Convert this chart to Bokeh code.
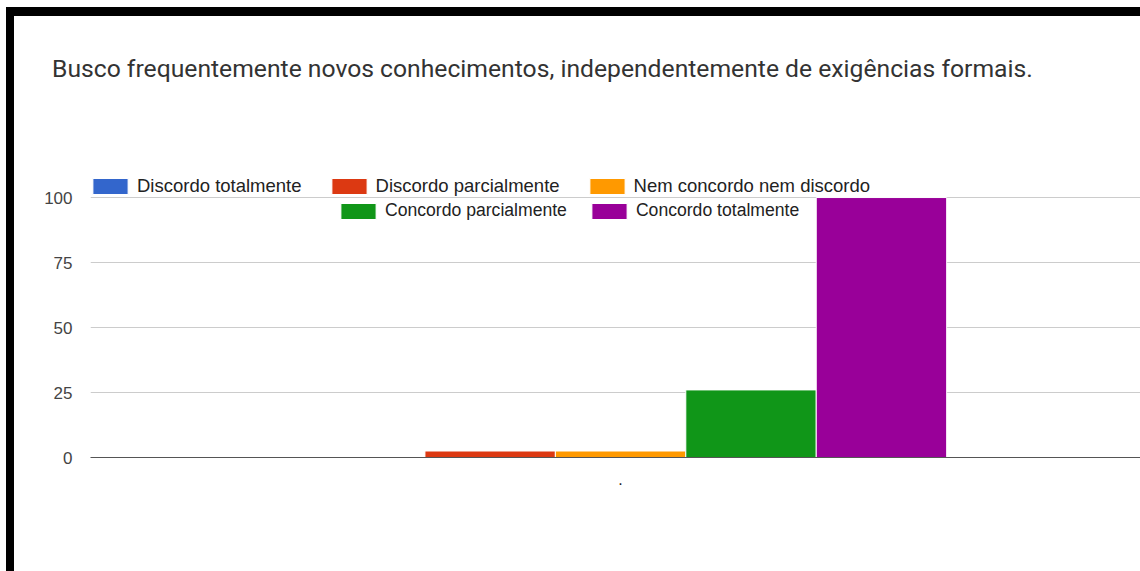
from bokeh.plotting import figure
from bokeh.models import Range1d, FixedTicker, Legend, LegendItem, Div
from bokeh.layouts import column
from bokeh.embed import file_html
from bokeh.resources import INLINE

title = "Busco frequentemente novos conhecimentos, independentemente de exigências formais."
category = "."
series = ["Discordo totalmente", "Discordo parcialmente", "Nem concordo nem discordo",
          "Concordo parcialmente", "Concordo totalmente"]
values = [0, 2.5, 2.5, 26, 100]
colors = ["#3366cc", "#dc3912", "#ff9900", "#109618", "#990099"]
y_ticks = [0, 25, 50, 75, 100]

div = Div(text=('<div style="font-family:Roboto;font-size:24.7px;color:#333333;'
                'line-height:29px;padding:38px 0 0 38px;margin:0;white-space:nowrap;">'
                + title + '</div>'),
          width=1126, height=154, margin=0)

center = 4.064
p = figure(width=1126, height=401, output_backend="svg", toolbar_location=None,
           x_range=Range1d(0, 8.05), y_range=Range1d(0, 110.4),
           min_border_left=76, min_border_right=0, min_border_top=0, min_border_bottom=114,
           margin=0)
p.outline_line_color = None
p.background_fill_color = "white"

renderers = []
for i, (name, v, c) in enumerate(zip(series, values, colors)):
    r = p.vbar(x=[center + (i - 2)], top=[v], bottom=0, width=1.0,
               fill_color=c, line_color="white", line_width=1)
    renderers.append(r)

leg1 = Legend(items=[LegendItem(label=series[i], renderers=[renderers[i]]) for i in range(3)],
              orientation="horizontal", location=(-2, 260))
leg2 = Legend(items=[LegendItem(label=series[i], renderers=[renderers[i]]) for i in range(3, 5)],
              orientation="horizontal", location=(246, 236))
for lg, fs, sp in ((leg1, "18.5px", 25), (leg2, "17.6px", 20)):
    lg.glyph_width = 44
    lg.glyph_height = 20
    lg.label_height = 20
    lg.label_standoff = 5
    lg.spacing = sp
    lg.padding = 0
    lg.margin = 0
    lg.border_line_color = None
    lg.background_fill_alpha = 0
    lg.label_text_font = "Liberation Sans"
    lg.label_text_font_size = fs
    lg.label_text_color = "#222222"
    lg.click_policy = "none"
    p.add_layout(lg, "center")

p.yaxis.ticker = FixedTicker(ticks=y_ticks)
p.yaxis.axis_line_color = None
p.yaxis.major_tick_line_color = None
p.yaxis.minor_tick_line_color = None
p.yaxis.major_label_standoff = 12
p.yaxis.major_label_text_font = "Liberation Sans"
p.yaxis.major_label_text_font_size = "17px"
p.yaxis.major_label_text_color = "#444444"

p.xaxis.ticker = FixedTicker(ticks=[center])
p.xaxis.major_label_overrides = {center: category}
p.xaxis.axis_line_color = "#555555"
p.xaxis.major_tick_line_color = None
p.xaxis.minor_tick_line_color = None
p.xaxis.major_label_standoff = 9
p.xaxis.major_label_text_font = "Liberation Sans"
p.xaxis.major_label_text_font_size = "16px"
p.xaxis.major_label_text_color = "#222222"

p.xgrid.grid_line_color = None
p.ygrid.ticker = FixedTicker(ticks=y_ticks)
p.ygrid.grid_line_color = "#cccccc"

layout = column(div, p, spacing=0,
                styles={"border-left": "8px solid black", "border-top": "9px solid black",
                        "margin-left": "6px", "margin-top": "7px", "background": "white"})

open("out.html", "w").write(file_html(layout, INLINE))
